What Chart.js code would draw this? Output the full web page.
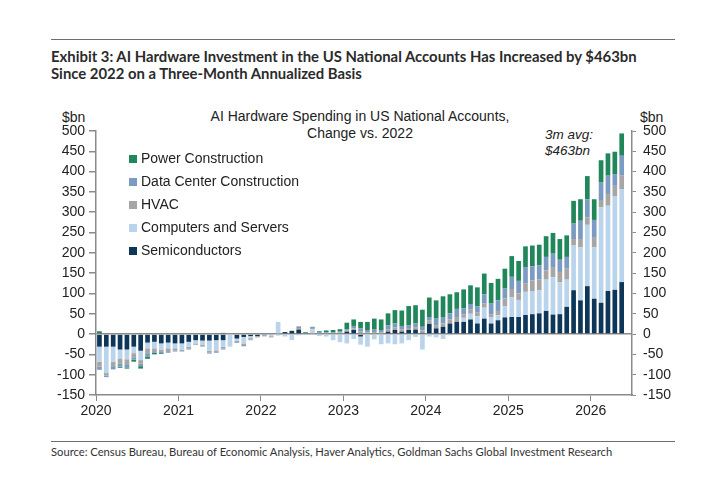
<!DOCTYPE html>
<html>
<head>
<meta charset="utf-8">
<script src="https://cdn.jsdelivr.net/npm/chart.js@4.4.1/dist/chart.umd.min.js"></script>
<style>
  body { margin: 0; width: 720px; height: 485px; position: relative; background: #fff; overflow: hidden; font-family: "Liberation Sans", Arial, sans-serif; }
  .abs { position: absolute; white-space: nowrap; }
  .rule { position: absolute; left: 51px; width: 624px; height: 0; border-top: 1.5px solid #6e6e6e; }
  #head { left: 51px; top: 48px; font-family: Lato, sans-serif; font-weight: bold; font-size: 14px; line-height: 17px; color: #2b2b2b; }
  #head span { display: inline-block; }
  #source { left: 51px; top: 445px; font-family: Lato, sans-serif; font-size: 11px; color: #333; }
  #ctitle { left: 0; width: 720px; top: 108px; text-align: center; font-size: 14px; line-height: 16.5px; color: #222; }
  .unit { top: 109px; font-size: 14px; color: #222; }
  #note { left: 545px; top: 127px; font-style: italic; font-size: 13.5px; line-height: 15.5px; color: #222; }
  #legend { left: 129px; top: 149px; font-size: 14px; color: #222; }
  #legend div { height: 23px; line-height: 18px; }
  #legend i { display: inline-block; width: 8px; height: 8px; margin-right: 4px; vertical-align: 0px; }
  #wrap { position: absolute; left: 0; top: 115px; width: 720px; height: 310px; }
</style>
</head>
<body>
<div class="rule" style="top:39px"></div>
<div id="head" class="abs"><span id="h1">Exhibit 3: AI Hardware Investment in the US National Accounts Has Increased by $463bn</span><br><span id="h2">Since 2022 on a Three-Month Annualized Basis</span></div>
<div id="ctitle" class="abs">AI Hardware Spending in US National Accounts,<br>Change vs. 2022</div>
<div class="abs unit" style="left:62px">$bn</div>
<div class="abs unit" style="left:640px">$bn</div>
<div id="note" class="abs">3m avg:<br>$463bn</div>
<div id="wrap"><canvas id="c" width="720" height="310"></canvas></div>
<div id="legend" class="abs"></div>
<div class="rule" style="top:441px"></div>
<div id="source" class="abs">Source: Census Bureau, Bureau of Economic Analysis, Haver Analytics, Goldman Sachs Global Investment Research</div>

<script>
// monthly categories, Jan 2020 .. Jun 2026 (last month has no data yet)
const years = [2020, 2021, 2022, 2023, 2024, 2025, 2026];
const months = ['01', '02', '03', '04', '05', '06', '07', '08', '09', '10', '11', '12'];
const labels = [];
years.forEach(y => months.forEach(m => { if (y < 2026 || +m <= 6) labels.push(y + '-' + m); }));

// $bn, change vs. 2022
const semis = [
  -31, -31, -31, -38, -38, -31, -41, -21, -19, -23, -21, -23,
  -23, -19, -15, -16, -16, -15, -15, 0, -11, -7, -5, -5,
  -3, -2, 0, 5, 8, 11, 0, 0, 0, 0, 0, 2,
  6, 10, -6, 0, 0, 0, 6, 10, 6, 10, 11, 3,
  25, 14, 18, 26, 30, 30, 36, 26, 38, 26, 34, 41,
  42, 42, 47, 49, 51, 57, 48, 49, 67, 108, 83, 118,
  87, 77, 106, 109, 128, null
];
const computers = [
  -37, -65, -37, -22, -24, -16, -23, -14, -16, -16, -14, -12,
  -16, -12, -8, -11, -25, -25, -16, -31, -6, -16, -5, 0,
  -2, -3, 30, -6, -15, -3, 0, 12, -5, -6, -15, -20,
  -23, -12, -20, -31, -13, -25, -23, -25, -23, -15, -7, -38,
  -6, -8, -12, -3, 0, 10, 14, 18, 27, 16, 12, 28,
  49, 42, 57, 57, 57, 77, 92, 79, 67, 110, 131, 151,
  127, 235, 210, 231, 229, null
];
const hvac = [
  -12, -6, -11, -12, -12, -10, -9, -12, -7, -5, -7, -5,
  -3, -4, -3, -3, -4, -4, -4, 0, -3, -4, -3, -2,
  -1, -2, -2, 0, 0, 4, 2, 3, 2, 3, 2, 2,
  3, 4, 6, 4, 5, 4, 6, 6, 6, 5, 6, 6,
  8, 8, 8, 10, 12, 8, 10, 10, 10, 7, 11, 19,
  20, 16, 20, 26, 26, 23, 25, 25, 27, 16, 20, 18,
  23, 16, 29, 25, 33, null
];
const dataCenter = [
  -8, -4, -8, -8, -8, -6, -6, -8, -4, -3, -4, -3,
  -1, -3, -1, -1, -3, -2, -3, 0, -2, -3, -2, -1,
  0, -1, -1, 0, 0, 4, 1, 3, 2, 2, 2, 2,
  3, 6, 8, 6, 6, 6, 10, 10, 8, 7, 9, 9,
  9, 16, 16, 15, 20, 15, 14, 14, 23, 26, 26, 24,
  30, 31, 41, 35, 35, 33, 33, 30, 29, 38, 45, 45,
  44, 45, 45, 29, 49, null
];
const power = [
  7, 0, 0, -3, -3, -5, -6, -6, -4, -2, 0, 0,
  0, 0, 0, 0, 0, 0, 3, 0, 0, 0, 0, 0,
  0, 0, 0, 0, 0, 0, 2, 0, 3, 4, 6, 6,
  16, 16, 16, 20, 27, 26, 29, 33, 38, 47, 45, 42,
  48, 45, 51, 47, 41, 47, 46, 47, 51, 51, 53, 49,
  51, 49, 51, 51, 51, 51, 51, 51, 53, 56, 53, 57,
  51, 55, 55, 55, 55, null
];
const yTicks = { min: -150, max: 500, step: 50 };

// fit header / source text to the widths in the original
function fit(el, target) {
  const w = el.getBoundingClientRect().width;
  const fs = parseFloat(getComputedStyle(el).fontSize) * target / w;
  return fs;
}
const hs = fit(document.getElementById('h1'), 586);
document.getElementById('head').style.fontSize = hs + 'px';
const src = document.getElementById('source');
src.style.fontSize = fit(src, 562) + 'px';

const axisFont = { family: '"Liberation Sans", Arial, sans-serif', size: 14 };
const axisGray = '#8a8a8a';

const chart = new Chart(document.getElementById('c'), {
  type: 'bar',
  data: {
    labels: labels,
    datasets: [
      { label: 'Semiconductors', data: semis, backgroundColor: '#0d3659' },
      { label: 'Computers and Servers', data: computers, backgroundColor: '#bad4eb' },
      { label: 'HVAC', data: hvac, backgroundColor: '#a8a6a4' },
      { label: 'Data Center Construction', data: dataCenter, backgroundColor: '#7c9bc2' },
      { label: 'Power Construction', data: power, backgroundColor: '#21875a' }
    ]
  },
  options: {
    responsive: false,
    animation: false,
    layout: { padding: { top: 16 } },
    datasets: { bar: { categoryPercentage: 1, barPercentage: 0.68 } },
    plugins: { legend: { display: false }, tooltip: { enabled: false } },
    scales: {
      x: {
        stacked: true,
        afterFit: s => { s.height = 30; },
        border: { display: true, color: axisGray, width: 1.5 },
        grid: {
          offset: true, drawOnChartArea: false, tickLength: 6,
          color: c => (c.index % 12 === 0 ? axisGray : 'rgba(0,0,0,0)'),
          tickColor: c => (c.index % 12 === 0 ? axisGray : 'rgba(0,0,0,0)')
        },
        ticks: {
          autoSkip: false, maxRotation: 0, labelOffset: -3.44, padding: 2,
          font: axisFont, color: '#222',
          callback: (v, i) => (i % 12 === 0 ? labels[i].slice(0, 4) : '')
        }
      },
      y: {
        stacked: true, position: 'left',
        min: yTicks.min, max: yTicks.max,
        afterFit: s => { s.width = 96; },
        border: { display: true, color: axisGray, width: 1.5 },
        grid: {
          tickLength: 7, lineWidth: 1.5,
          color: c => (c.tick && c.tick.value === 0 ? axisGray : 'rgba(0,0,0,0)'),
          tickColor: axisGray
        },
        ticks: { stepSize: yTicks.step, padding: 4, font: axisFont, color: '#222' }
      },
      y2: {
        position: 'right',
        min: yTicks.min, max: yTicks.max,
        afterFit: s => { s.width = 88; },
        border: { display: true, color: axisGray, width: 1.5 },
        grid: { drawOnChartArea: false, tickLength: 4, tickColor: axisGray },
        ticks: { stepSize: yTicks.step, padding: 7, font: axisFont, color: '#222' }
      }
    }
  }
});

// legend inside the plot, top entry = top of the stack
const leg = document.getElementById('legend');
chart.data.datasets.slice().reverse().forEach(ds => {
  const row = document.createElement('div');
  row.innerHTML = '<i style="background:' + ds.backgroundColor + '"></i>' + ds.label;
  leg.appendChild(row);
});
</script>
</body>
</html>
